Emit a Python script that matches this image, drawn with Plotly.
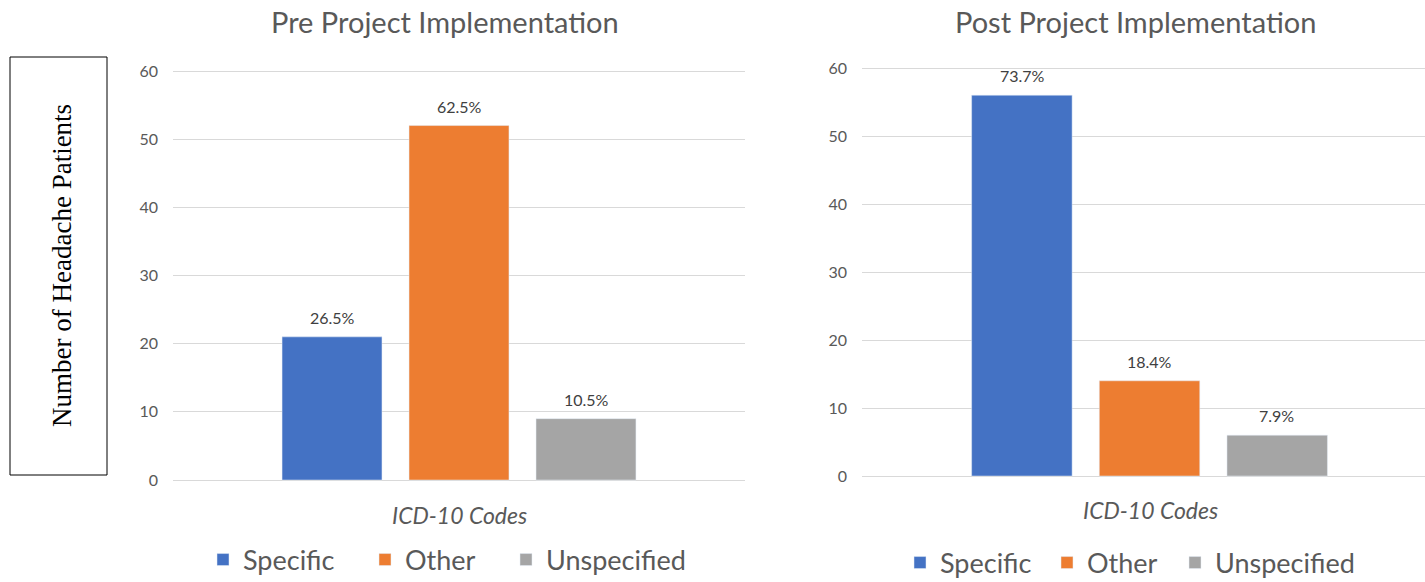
import plotly.graph_objects as go

# Headache patient counts by ICD-10 code group, before and after the project
series = ["Specific", "Other", "Unspecified"]
colors = ["#4472C4", "#ED7D31", "#A5A5A5"]
category = ["ICD-10 Codes"]

pre_counts = [21, 52, 9]
pre_labels = ["26.5%", "62.5%", "10.5%"]

post_counts = [56, 14, 6]
post_labels = ["73.7%", "18.4%", "7.9%"]

y_ticks = [0, 10, 20, 30, 40, 50, 60]

W, H = 1425, 582
FONT = "Lato"
TXT = "#595959"
PAD = 0.4  # small headroom so the 0 and 60 gridlines are not clipped


def px(x):
    return x / W


def py(y):
    return 1 - y / H


def ydomain(y0_px, y60_px):
    per = (y0_px - y60_px) / 60.0
    return [py(y0_px + PAD * per), py(y60_px - PAD * per)]


fig = go.Figure()

# one legend per entry so each key can sit at its own spot under the chart
panels = [
    ("x", "y", pre_counts, ["legend", "legend2", "legend3"]),
    ("x2", "y2", post_counts, ["legend4", "legend5", "legend6"]),
]
for xa, ya, counts, legends in panels:
    for name, color, v, lg in zip(series, colors, counts, legends):
        fig.add_trace(go.Bar(
            x=category, y=[v], name=name, marker_color=color,
            xaxis=xa, yaxis=ya, legend=lg,
        ))

# percentage labels above each bar
bar_shift = [-127, 0, 127]
for xa, ya, counts, labels in [("x", "y", pre_counts, pre_labels),
                               ("x2", "y2", post_counts, post_labels)]:
    for v, lab, dx in zip(counts, labels, bar_shift):
        fig.add_annotation(text=lab, x=category[0], y=v, xref=xa, yref=ya,
                           xshift=dx, yshift=8, xanchor="center",
                           yanchor="bottom", showarrow=False,
                           font=dict(size=16, color="#404040", family=FONT))

yax = dict(range=[-PAD, 60 + PAD], tickvals=y_ticks, showgrid=True,
           gridcolor="#D9D9D9", gridwidth=1, zeroline=False, showline=False,
           tickfont=dict(size=16, color=TXT, family=FONT), ticklabelstandoff=14)
xax = dict(showticklabels=False, showgrid=False, zeroline=False, showline=False,
           type="category")

legend_common = dict(orientation="h", font=dict(size=27, color=TXT, family=FONT),
                     bgcolor="rgba(0,0,0,0)", itemclick=False, yanchor="middle",
                     xanchor="left")

fig.update_layout(
    width=W, height=H,
    margin=dict(l=0, r=0, t=0, b=0, autoexpand=False),
    paper_bgcolor="white", plot_bgcolor="white",
    barmode="group", bargap=0.334, bargroupgap=0.213,
    font=dict(family=FONT, color=TXT),
    xaxis=dict(xax, domain=[px(173), px(745)], anchor="y", range=[-0.5, 0.5]),
    yaxis=dict(yax, domain=ydomain(480, 71), anchor="x"),
    xaxis2=dict(xax, domain=[px(862), 1.0], anchor="y2", range=[-0.5, 0.479]),
    yaxis2=dict(yax, domain=ydomain(476, 68), anchor="x2"),
    legend=dict(legend_common, x=px(203), y=py(560)),
    legend2=dict(legend_common, x=px(365), y=py(560)),
    legend3=dict(legend_common, x=px(506), y=py(560)),
    legend4=dict(legend_common, x=px(900), y=py(563)),
    legend5=dict(legend_common, x=px(1047), y=py(563)),
    legend6=dict(legend_common, x=px(1175), y=py(563)),
    showlegend=True,
)

# Chart titles and category axis titles
for txt, x, y in [("Pre Project Implementation", 445, 22),
                  ("Post Project Implementation", 1135, 22)]:
    fig.add_annotation(text=txt, x=px(x), y=py(y), xref="paper", yref="paper",
                       xanchor="center", yanchor="middle", showarrow=False,
                       font=dict(size=29, color=TXT, family=FONT))
for x, y in [(459, 515), (1150, 510)]:
    fig.add_annotation(text="<i>ICD-10 Codes</i>", x=px(x), y=py(y),
                       xref="paper", yref="paper", xanchor="center",
                       yanchor="middle", showarrow=False,
                       font=dict(size=23, color=TXT, family=FONT))

# Boxed shared y-axis label
fig.add_shape(type="rect", xref="paper", yref="paper",
              x0=px(10), x1=px(107), y0=py(475), y1=py(57),
              line=dict(color="black", width=1), fillcolor="rgba(0,0,0,0)")
fig.add_annotation(text="Number of Headache Patients", x=px(62), y=py(266),
                   xref="paper", yref="paper", xanchor="center",
                   yanchor="middle", showarrow=False, textangle=-90,
                   font=dict(size=27, color="black", family="Liberation Serif"))

fig.write_html("out.html")
